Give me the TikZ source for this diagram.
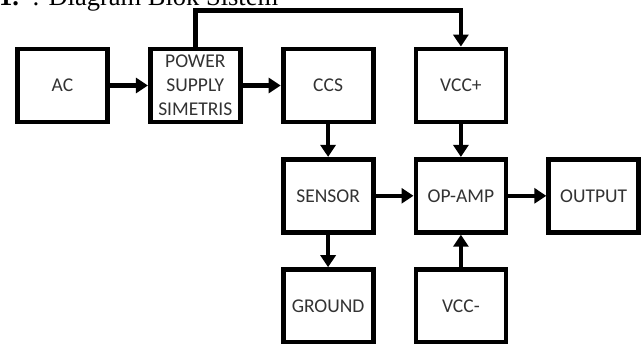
\documentclass[tikz,border=0pt]{standalone}
\usepackage{fontspec}
\setmainfont{Liberation Serif}
\newfontfamily\boxfont{Carlito}
\usepackage{tikz}
\usetikzlibrary{arrows.meta,positioning}
\tikzset{
  blok/.style ={rectangle, draw=black, line width=4.8pt, fill=white,
                minimum height=73pt, minimum width=90pt, align=center,
                text=black!80, font=\boxfont\fontsize{19.5}{24}\selectfont},
  judul/.style={anchor=base west, inner sep=0pt,
                font=\fontsize{26.5}{30}\selectfont},
  ar/.style   ={-{Triangle[length=12pt,width=15pt]}, line width=4.6pt,
                draw=black, line join=miter},
}

\begin{document}
\begin{tikzpicture}[x=1pt, y=1pt, node distance=32.5pt and 38pt]

\useasboundingbox (0,0) rectangle (642,-343);
\clip (0,0) rectangle (642,-343);

\node[judul] (title) at (-1,-5) {\textbf{1.}\hspace{0.5em}: Diagram Blok Sistem};

\node[blok] (ac) at (62.5,-85.5) {AC};
\node[blok, right=of ac]    (psu)    {POWER\\SUPPLY\\SIMETRIS};
\node[blok, right=of psu]   (ccs)    {CCS};
\node[blok, right=of ccs]   (vccp)   {VCC+};
\node[blok, below=of ccs]   (sensor) {SENSOR};
\node[blok, below=of vccp]  (opamp)  {OP-AMP};
\node[blok, right=of opamp] (output) {OUTPUT};
\node[blok, below=of sensor] (ground) {GROUND};
\node[blok, below=of opamp]  (vccm)   {VCC-};

\draw[ar] (ac) -- (psu);
\draw[ar] (psu) -- (ccs);
\draw[ar] (psu.north) -- ++(0,36) -| (vccp.north);
\draw[ar] (ccs) -- (sensor);
\draw[ar] (vccp) -- (opamp);
\draw[ar] (sensor) -- (opamp);
\draw[ar] (opamp) -- (output);
\draw[ar] (sensor) -- (ground);
\draw[ar] (vccm) -- (opamp);

\end{tikzpicture}
\end{document}
